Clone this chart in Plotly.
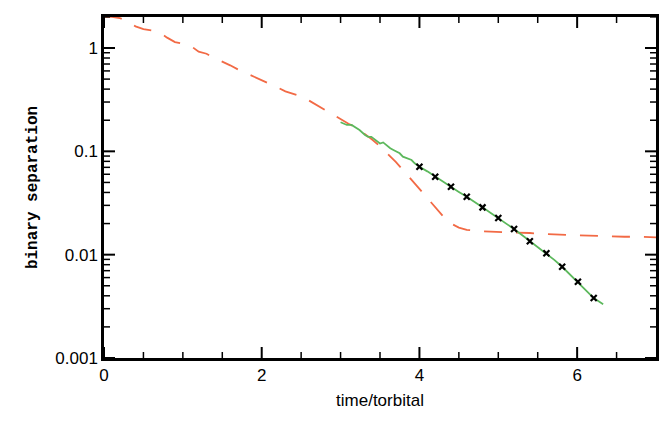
import plotly.graph_objects as go

# Red dashed curve
red_x = [0.00, 0.10, 0.20, 0.30, 0.40, 0.50, 0.60, 0.70, 0.80, 0.90,
         1.00, 1.10, 1.20, 1.30, 1.40, 1.50, 1.60, 1.70, 1.80, 1.90,
         2.00, 2.10, 2.20, 2.30, 2.40, 2.50, 2.60, 2.70, 2.80, 2.90,
         3.00, 3.10, 3.20, 3.30, 3.40, 3.50, 3.60, 3.70, 3.80, 3.90,
         4.00, 4.10, 4.20, 4.30, 4.40, 4.50, 4.60, 4.70, 4.80, 4.90,
         5.00, 5.20, 5.40, 5.60, 5.80, 6.00, 6.20, 6.40, 6.60, 6.80, 7.00]
red_y = [2.00, 2.00, 1.95, 1.80, 1.62, 1.52, 1.48, 1.42, 1.26, 1.14,
         1.10, 1.05, 0.92, 0.88, 0.80, 0.74, 0.68, 0.62, 0.57, 0.53,
         0.49, 0.45, 0.415, 0.38, 0.36, 0.34, 0.31, 0.28, 0.25, 0.225,
         0.205, 0.185, 0.170, 0.150, 0.130, 0.112, 0.095, 0.079, 0.065, 0.053,
         0.043, 0.035, 0.029, 0.0235, 0.0200, 0.0183, 0.0174, 0.0170, 0.0168, 0.0167,
         0.0166, 0.0165, 0.0162, 0.0158, 0.0156, 0.0155, 0.0152, 0.0151, 0.0149, 0.0149, 0.0147]

# Green solid curve
green_x = [3.00, 3.08, 3.14, 3.18, 3.24, 3.31, 3.35, 3.39, 3.44, 3.50,
           3.54, 3.58, 3.63, 3.67, 3.71, 3.75, 3.79, 3.84, 3.90, 3.94,
           4.00, 4.10, 4.20, 4.30, 4.40, 4.50, 4.60, 4.70, 4.80, 4.90,
           5.00, 5.10, 5.20, 5.30, 5.40, 5.50, 5.61, 5.71, 5.81, 5.91,
           6.01, 6.11, 6.21, 6.33]
green_y = [0.191, 0.180, 0.180, 0.173, 0.161, 0.144, 0.138, 0.138, 0.129, 0.119,
           0.122, 0.115, 0.107, 0.103, 0.099, 0.0957, 0.0887, 0.0855, 0.0824, 0.0765,
           0.0710, 0.0640, 0.0568, 0.0505, 0.0454, 0.0405, 0.0363, 0.0320, 0.0287, 0.0254,
           0.0226, 0.0200, 0.0177, 0.0155, 0.0135, 0.0118, 0.0103, 0.0089, 0.00764, 0.00640,
           0.00547, 0.00455, 0.00380, 0.00332]

# Cross markers
mark_x = [4.00, 4.20, 4.40, 4.60, 4.80, 5.00, 5.20, 5.40, 5.61, 5.81, 6.01, 6.21]
mark_y = [0.0710, 0.0568, 0.0454, 0.0363, 0.0287, 0.0226, 0.0177, 0.0135, 0.0103, 0.00764, 0.00547, 0.00380]

# Axis tick positions
x_major = [0, 2, 4, 6]
x_minor = [0.5, 1, 1.5, 2.5, 3, 3.5, 4.5, 5, 5.5, 6.5]
y_major = [0.001, 0.01, 0.1, 1]
y_major_text = ["0.001", "0.01", "0.1", "1"]
y_minor = [m * d for d in (0.001, 0.01, 0.1, 1) for m in range(2, 10) if m * d <= 2]

W, H = 665, 422
ML, MR, MT, MB = 104, 9, 17, 64
PW, PH = W - ML - MR, H - MT - MB
MAJ_LEN, MIN_LEN = 11, 6

fig = go.Figure()
fig.add_trace(go.Scatter(x=red_x, y=red_y, mode="lines",
                         line=dict(color="#f26a45", width=1.8, dash="18px,14px"),
                         showlegend=False, hoverinfo="skip"))
fig.add_trace(go.Scatter(x=green_x, y=green_y, mode="lines",
                         line=dict(color="#5cb85c", width=1.8),
                         showlegend=False))
fig.add_trace(go.Scatter(x=mark_x, y=mark_y, mode="markers",
                         marker=dict(symbol="x-thin", size=6, color="black",
                                     line=dict(color="black", width=2.2)),
                         showlegend=False))

# y-axis inside ticks drawn as line segments on a hidden 0..1 overlay x axis,
# with y placed by the log y axis itself
for vals, ln, w in ((y_major, MAJ_LEN, 2), (y_minor, MIN_LEN, 1.5)):
    f = ln / PW
    tx, ty = [], []
    for v in vals:
        tx += [0, f, None, 1, 1 - f, None]
        ty += [v, v, None, v, v, None]
    fig.add_trace(go.Scatter(x=tx, y=ty, xaxis="x2", yaxis="y", mode="lines",
                             line=dict(color="black", width=w), connectgaps=False,
                             showlegend=False, hoverinfo="skip", cliponaxis=False))

# x-axis inside ticks (top and bottom)
shapes = []
for vals, ln, w in ((x_major, MAJ_LEN, 2), (x_minor, MIN_LEN, 1.5)):
    f = ln / PH
    for v in vals:
        shapes.append(dict(type="line", xref="x", yref="y domain", x0=v, x1=v, y0=0, y1=f,
                           line=dict(color="black", width=w), layer="above"))
        shapes.append(dict(type="line", xref="x", yref="y domain", x0=v, x1=v, y0=1, y1=1 - f,
                           line=dict(color="black", width=w), layer="above"))

fig.update_layout(
    template="none",
    width=W, height=H,
    margin=dict(l=ML, r=MR, t=MT, b=MB),
    paper_bgcolor="white", plot_bgcolor="white",
    shapes=shapes,
    xaxis=dict(range=[0, 7], tickmode="array", tickvals=x_major,
               showline=True, linecolor="black", linewidth=2.5, mirror=True,
               ticks="", showgrid=False, zeroline=False,
               tickfont=dict(family="Liberation Sans", size=17, color="black"),
               title=dict(text="time/torbital", font=dict(family="Liberation Sans", size=17, color="black"),
                          standoff=10)),
    xaxis2=dict(range=[0, 1], overlaying="x", visible=False, showgrid=False, zeroline=False),
    yaxis=dict(type="log", range=[-3, 0.3], tickmode="array", tickvals=y_major, ticktext=y_major_text,
               showline=True, linecolor="black", linewidth=2.5, mirror=True,
               ticks="", showgrid=False, zeroline=False,
               tickfont=dict(family="Liberation Sans", size=17, color="black"),
               title=dict(text="<b>binary separation</b>",
                          font=dict(family="Liberation Mono", size=16, color="black"),
                          standoff=14)),
)

fig.write_html("out.html")
